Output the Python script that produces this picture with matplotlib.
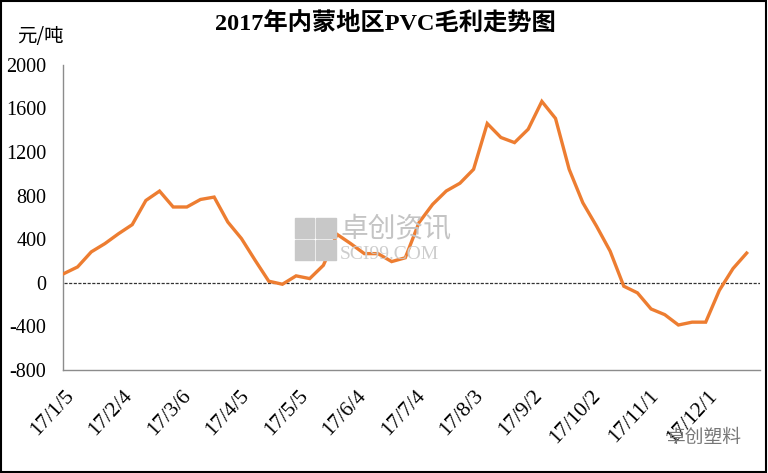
import numpy as np
import matplotlib
matplotlib.use("Agg")
import matplotlib.pyplot as plt
from matplotlib.patches import Rectangle

# 周度毛利数据（2017/1/5 起，每周一个点）
week_step = 7
margin = [
    84, 145, 283, 359, 450, 533, 755, 841, 695, 695,
    764, 786, 557, 405, 206, 14, -14, 63, 38, 160,
    444, 359, 267, 267, 194, 229, 551, 719, 842, 913,
    1041, 1461, 1333, 1286, 1409, 1664, 1508, 1041, 734, 520,
    290, -32, -93, -241, -293, -388, -362, -362, -70, 130,
    272,
]
tick_days = [0, 30, 60, 90, 120, 150, 180, 210, 240, 270, 300, 330]
tick_labels = ["17/1/5", "17/2/4", "17/3/6", "17/4/5", "17/5/5", "17/6/4",
               "17/7/4", "17/8/3", "17/9/2", "17/10/2", "17/11/1", "17/12/1"]
y_ticks = [-800, -400, 0, 400, 800, 1200, 1600, 2000]

serif_cjk = ["Liberation Serif", "Noto Sans CJK SC"]
plt.rcParams["font.family"] = serif_cjk

days = np.arange(len(margin)) * week_step

fig = plt.figure(figsize=(7.68, 4.73), dpi=100)
ax = fig.add_axes([0.082, 0.218, 0.908, 0.645])

ax.plot(days, margin, color="#ED7D31", linewidth=2.4, solid_joinstyle="miter", zorder=3)
ax.plot([days[0], days[-1] + 12], [0, 0], color="#333333", linewidth=0.9,
        linestyle=(0, (2.5, 1.2)), zorder=2)

ax.set_xlim(-0.5, 357)
ax.set_ylim(-800, 2000)
ax.set_yticks(y_ticks)
ax.set_yticklabels([str(v) for v in y_ticks], fontsize=14.5)
ax.set_xticks(tick_days)
ax.set_xticklabels(tick_labels, rotation=47, ha="right", rotation_mode="anchor", fontsize=15.5)
ax.tick_params(axis="both", length=0)
ax.tick_params(axis="y", pad=12)
ax.tick_params(axis="x", pad=12)

for side in ["top", "right"]:
    ax.spines[side].set_visible(False)
ax.spines["left"].set_color("#8c8c8c")
ax.spines["bottom"].set_color("#8c8c8c")
ax.spines["left"].set_linewidth(1.0)
ax.spines["bottom"].set_linewidth(1.0)

fig.text(0.502, 0.952, "2017年内蒙地区PVC毛利走势图", ha="center", va="center",
         fontsize=17.5, fontweight="bold", family=serif_cjk)
fig.text(0.052, 0.922, "元/吨", ha="center", va="center", fontsize=14,
         family=["Noto Sans CJK SC", "DejaVu Sans"])

# 水印
for (x0, y0) in [(0.384, 0.497), (0.412, 0.497), (0.384, 0.45), (0.412, 0.45)]:
    fig.add_artist(Rectangle((x0, y0), 0.025, 0.042, transform=fig.transFigure,
                             color="#c8c8c8", zorder=1))
fig.text(0.443, 0.515, "卓创资讯", fontsize=20, color="#c4c4c4",
         family=["Noto Sans CJK SC"], va="center", zorder=1)
fig.text(0.443, 0.462, "SCI99.COM", fontsize=14, color="#cdcdcd",
         family=["Liberation Serif"], va="center", zorder=1)
fig.text(0.868, 0.076, "卓创塑料", fontsize=13.5, color="#777777",
         family=["Noto Sans CJK SC"], ha="left", va="center")

fig.add_artist(Rectangle((0.001, 0.002), 0.997, 0.996, transform=fig.transFigure,
                         fill=False, edgecolor="black", linewidth=1.5))

fig.savefig("out.png", dpi=100)
